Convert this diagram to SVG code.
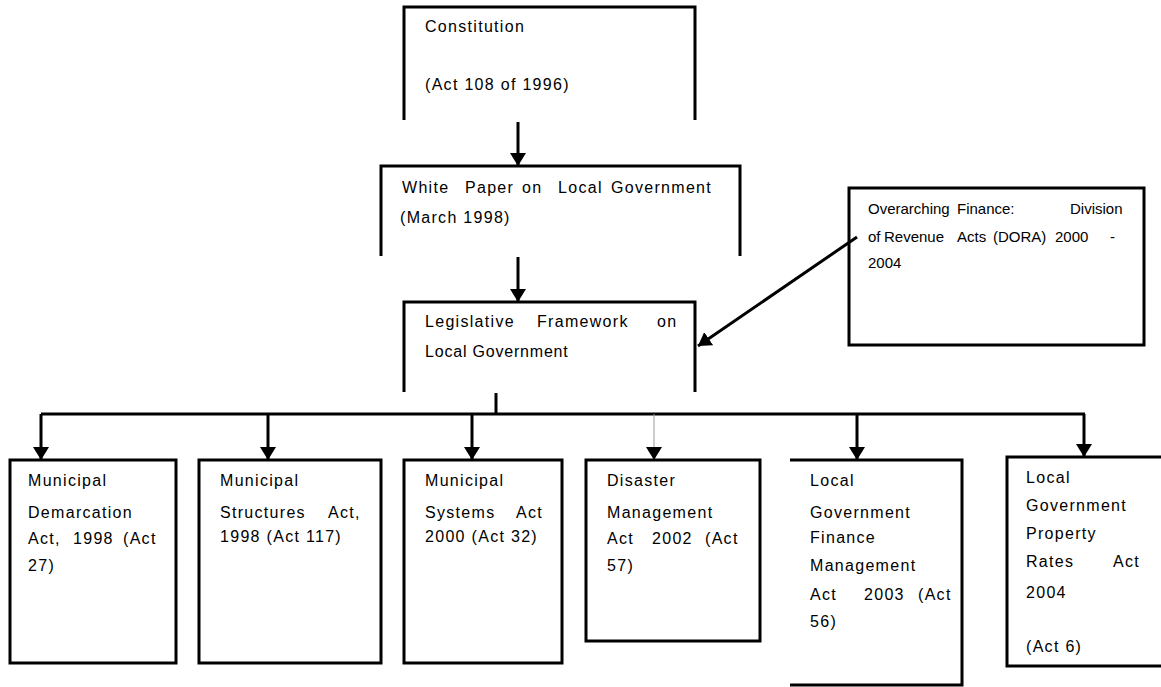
<svg xmlns="http://www.w3.org/2000/svg" width="1161" height="687" viewBox="0 0 1161 687">
<style>
.box{fill:none;stroke:#000;stroke-width:3}
.t{font-family:"Liberation Sans",Arial,sans-serif;font-size:16px;letter-spacing:1.3px;fill:#000}
.s{font-family:"Liberation Sans",Arial,sans-serif;font-size:15px;fill:#000}
.c{fill:none;stroke:#000;stroke-width:3}
.thin{fill:none;stroke:#999;stroke-width:1}
</style>
<defs>
<marker id="ah" markerUnits="userSpaceOnUse" markerWidth="14" markerHeight="16" refX="13" refY="8" orient="auto">
<path d="M0,0 L13,8 L0,16 Z" fill="#000"/>
</marker>
</defs>
<rect width="1161" height="687" fill="#fff"/>
<g id="connectors">
<line class="c" x1="518" y1="122" x2="518" y2="166" marker-end="url(#ah)"/>
<line class="c" x1="518" y1="257" x2="518" y2="302" marker-end="url(#ah)"/>
<line class="c" x1="857" y1="237" x2="698" y2="346" marker-end="url(#ah)"/>
<line class="c" x1="496" y1="393" x2="496" y2="414"/>
<line class="c" x1="41" y1="414" x2="1085" y2="414"/>
<line class="c" x1="41" y1="414" x2="41" y2="460" marker-end="url(#ah)"/>
<line class="c" x1="268" y1="414" x2="268" y2="460" marker-end="url(#ah)"/>
<line class="c" x1="472" y1="414" x2="472" y2="460" marker-end="url(#ah)"/>
<line class="thin" x1="654" y1="414" x2="654" y2="460" marker-end="url(#ah)"/>
<line class="c" x1="857" y1="414" x2="857" y2="460" marker-end="url(#ah)"/>
<line class="c" x1="1084" y1="414" x2="1084" y2="457" marker-end="url(#ah)"/>
</g>
<g id="constitution">
<path class="box" d="M404,120 V7 H695 V120"/>
<text class="t" x="425" y="32">Constitution</text>
<text class="t" x="425" y="90">(Act 108 of 1996)</text>
</g>
<g id="white-paper">
<path class="box" d="M381,256 V166 H740 V256"/>
<text class="t" y="193"><tspan x="402">White</tspan><tspan x="465">Paper</tspan><tspan x="522">on</tspan><tspan x="558">Local</tspan><tspan x="611">Government</tspan></text>
<text class="t" x="400" y="223">(March 1998)</text>
</g>
<g id="legislative">
<path class="box" d="M404,392 V302 H695 V392"/>
<text class="t" y="327"><tspan x="425">Legislative</tspan><tspan x="537">Framework</tspan><tspan x="657">on</tspan></text>
<text class="t" x="425" y="357" style="letter-spacing:0.8px">Local Government</text>
</g>
<g id="dora">
<rect class="box" x="849" y="188" width="295" height="157"/>
<text class="s" y="214"><tspan x="868">Overarching</tspan><tspan x="957">Finance:</tspan><tspan x="1070">Division</tspan></text>
<text class="s" y="242"><tspan x="868">of</tspan><tspan x="884">Revenue</tspan><tspan x="957">Acts</tspan><tspan x="993">(DORA)</tspan><tspan x="1055">2000</tspan><tspan x="1110">-</tspan></text>
<text class="s" x="868" y="268">2004</text>
</g>
<g id="demarcation">
<rect class="box" x="10" y="460" width="166" height="203"/>
<text class="t" x="28" y="486">Municipal</text>
<text class="t" x="28" y="518">Demarcation</text>
<text class="t" y="544"><tspan x="28">Act,</tspan><tspan x="73">1998</tspan><tspan x="123">(Act</tspan></text>
<text class="t" x="28" y="571">27)</text>
</g>
<g id="structures">
<rect class="box" x="199" y="460" width="182" height="203"/>
<text class="t" x="220" y="486">Municipal</text>
<text class="t" y="518"><tspan x="220">Structures</tspan><tspan x="328">Act,</tspan></text>
<text class="t" x="220" y="542">1998 (Act 117)</text>
</g>
<g id="systems">
<rect class="box" x="404" y="460" width="158" height="203"/>
<text class="t" x="425" y="486">Municipal</text>
<text class="t" y="518"><tspan x="425">Systems</tspan><tspan x="516">Act</tspan></text>
<text class="t" x="425" y="542">2000 (Act 32)</text>
</g>
<g id="disaster">
<rect class="box" x="586" y="460" width="174" height="181"/>
<text class="t" x="607" y="486">Disaster</text>
<text class="t" x="607" y="518">Management</text>
<text class="t" y="544"><tspan x="607">Act</tspan><tspan x="652">2002</tspan><tspan x="705">(Act</tspan></text>
<text class="t" x="607" y="571">57)</text>
</g>
<g id="finance">
<path class="box" d="M790,460 H962 V685 H790"/>
<text class="t" x="810" y="486">Local</text>
<text class="t" x="810" y="518">Government</text>
<text class="t" x="810" y="543">Finance</text>
<text class="t" x="810" y="571">Management</text>
<text class="t" y="600"><tspan x="810">Act</tspan><tspan x="864">2003</tspan><tspan x="918">(Act</tspan></text>
<text class="t" x="810" y="627">56)</text>
</g>
<g id="property-rates">
<path class="box" d="M1165,457 H1007 V666 H1165"/>
<text class="t" x="1026" y="483">Local</text>
<text class="t" x="1026" y="511">Government</text>
<text class="t" x="1026" y="539">Property</text>
<text class="t" y="567"><tspan x="1026">Rates</tspan><tspan x="1113">Act</tspan></text>
<text class="t" x="1026" y="598">2004</text>
<text class="t" x="1026" y="652">(Act 6)</text>
</g>
</svg>
